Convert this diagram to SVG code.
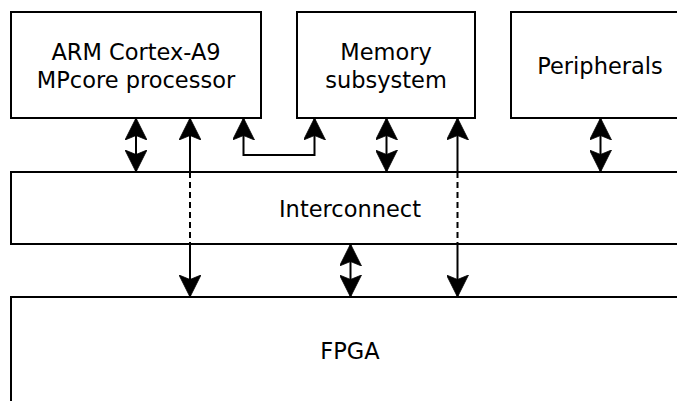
<svg xmlns="http://www.w3.org/2000/svg" width="677" height="401" viewBox="0 0 677 401">
<style>
.box{fill:#fff;stroke:#000;stroke-width:2}
.lbl{font-family:"DejaVu Sans",sans-serif;font-size:22.5px;fill:#000;text-anchor:middle}
.ln{fill:none;stroke:#000;stroke-width:2}
.dash{stroke-dasharray:6,4}
</style>
<defs>
<marker id="ah" viewBox="0 0 22 22" refX="22" refY="11" markerWidth="22" markerHeight="22" markerUnits="userSpaceOnUse" orient="auto-start-reverse">
<path d="M0,0 L22,11 L0,22 L4.5,11 z" fill="#000" stroke="#000" stroke-width="0.8" stroke-linejoin="miter"/>
</marker>
</defs>
<rect width="677" height="401" fill="#fff"/>
<g id="arm"><rect class="box" x="11" y="12" width="250" height="106"/><text class="lbl" x="136" y="60">ARM Cortex-A9</text><text class="lbl" x="136" y="88">MPcore processor</text></g>
<g id="memory"><rect class="box" x="297" y="12" width="178" height="106"/><text class="lbl" x="386" y="60">Memory</text><text class="lbl" x="386" y="88">subsystem</text></g>
<g id="peripherals"><rect class="box" x="511" y="12" width="180" height="106"/><text class="lbl" x="600" y="74">Peripherals</text></g>
<g id="interconnect"><rect class="box" x="11" y="172" width="680" height="72"/><text class="lbl" x="350" y="217">Interconnect</text></g>
<g id="fpga"><rect class="box" x="11" y="297" width="680" height="120"/><text class="lbl" x="350" y="359">FPGA</text></g>
<g id="connectors">
<path class="ln" d="M136,118 V172" marker-start="url(#ah)" marker-end="url(#ah)"/>
<path class="ln" d="M190,172 V118" marker-end="url(#ah)"/>
<path class="ln dash" d="M190,172 V244"/>
<path class="ln" d="M190,244 V297" marker-end="url(#ah)"/>
<path class="ln" d="M243.5,118 V155 H314.5 V118" marker-start="url(#ah)" marker-end="url(#ah)"/>
<path class="ln" d="M386.5,118 V172" marker-start="url(#ah)" marker-end="url(#ah)"/>
<path class="ln" d="M457.5,172 V118" marker-end="url(#ah)"/>
<path class="ln dash" d="M457.5,172 V244"/>
<path class="ln" d="M457.5,244 V297" marker-end="url(#ah)"/>
<path class="ln" d="M600.5,118 V172" marker-start="url(#ah)" marker-end="url(#ah)"/>
<path class="ln" d="M350.5,244 V297" marker-start="url(#ah)" marker-end="url(#ah)"/>
</g>
</svg>
